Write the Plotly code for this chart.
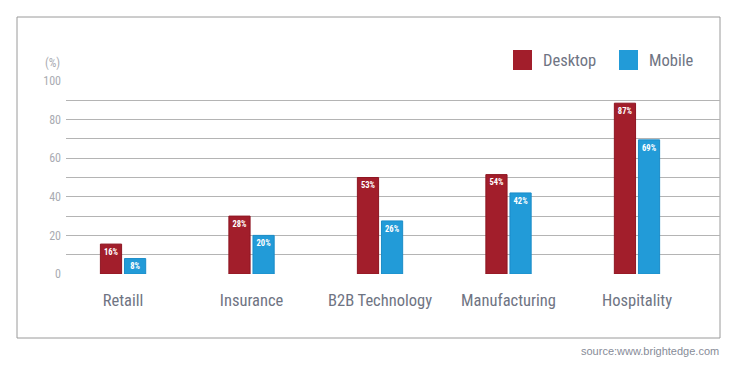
import plotly.graph_objects as go

categories = ["Retaill", "Insurance", "B2B Technology", "Manufacturing", "Hospitality"]
desktop_values = [15.5, 30, 50, 51.5, 88.5]
mobile_values = [8, 20, 27.5, 42, 69.5]
desktop_labels = ["16%", "28%", "53%", "54%", "87%"]
mobile_labels = ["8%", "20%", "26%", "42%", "69%"]
y_ticks = [0, 20, 40, 60, 80, 100]

DESKTOP = "#a21e2b"
MOBILE = "#229bd8"
FONT = "Roboto Condensed, Liberation Sans Narrow, Arial Narrow, Roboto, sans-serif"
TXT = "#6f7483"
LIGHT = "#a9abb2"

fig = go.Figure()
fig.add_trace(go.Bar(
    x=categories, y=desktop_values, name="Desktop", text=desktop_labels,
    marker=dict(color=DESKTOP, line=dict(color="#8e1622", width=1)),
    textposition="inside", insidetextanchor="end", textangle=0,
    textfont=dict(color="white", size=10, family=FONT, weight="bold"), showlegend=False,
    cliponaxis=False,
))
fig.add_trace(go.Bar(
    x=categories, y=mobile_values, name="Mobile", text=mobile_labels,
    marker=dict(color=MOBILE, line=dict(color="#1b8cc8", width=1)),
    textposition="inside", insidetextanchor="end", textangle=0,
    textfont=dict(color="white", size=10, family=FONT, weight="bold"), showlegend=False,
    cliponaxis=False,
))

L, R, T, B = 66, 16, 81, 92
W, H = 736, 366
pw, ph = W - L - R, H - T - B

def px(x):
    return (x - L) / pw

def py(y):
    return (H - B - y) / ph

shapes = [
    dict(type="rect", xref="paper", yref="paper", x0=px(17), x1=px(720), y0=py(17), y1=py(338),
         line=dict(color="#9a9a9a", width=1), fillcolor="rgba(0,0,0,0)", layer="below"),
    dict(type="rect", xref="paper", yref="paper", x0=px(513), x1=px(532), y0=py(50), y1=py(70),
         line=dict(width=0), fillcolor=DESKTOP),
    dict(type="rect", xref="paper", yref="paper", x0=px(619), x1=px(638), y0=py(50), y1=py(70),
         line=dict(width=0), fillcolor=MOBILE),
]

annotations = [
    dict(text="Desktop", xref="paper", yref="paper", x=px(541), y=py(60), xanchor="left", yanchor="middle",
         showarrow=False, font=dict(family=FONT, size=16.5, color=TXT)),
    dict(text="Mobile", xref="paper", yref="paper", x=px(647), y=py(60), xanchor="left", yanchor="middle",
         showarrow=False, font=dict(family=FONT, size=16.5, color=TXT)),
    dict(text="(%)", xref="paper", yref="paper", x=px(62), y=py(63), xanchor="right", yanchor="middle",
         showarrow=False, font=dict(family=FONT, size=12, color=LIGHT)),
    dict(text="source:www.brightedge.com", xref="paper", yref="paper", x=px(721), y=py(351),
         xanchor="right", yanchor="middle", showarrow=False,
         font=dict(family="Liberation Sans, Arial, sans-serif", size=11, color="#878c98")),
]

fig.update_layout(
    width=W, height=H,
    margin=dict(l=L, r=R, t=T, b=B),
    paper_bgcolor="white", plot_bgcolor="white",
    barmode="group", bargap=0.625, bargroupgap=0.12,
    shapes=shapes, annotations=annotations,
    font=dict(family=FONT, color=TXT),
    uniformtext=dict(minsize=8, mode="show"),
)
fig.update_xaxes(
    range=[-0.444, 4.646], showgrid=False, zeroline=False, showline=False,
    tickfont=dict(family=FONT, size=16.5, color=TXT), ticks="", ticklabelstandoff=14,
)
fig.update_yaxes(
    range=[0, 100], tickvals=y_ticks, showgrid=True, gridcolor="#b4b4b4", gridwidth=1,
    minor=dict(dtick=10, showgrid=True, gridcolor="#b4b4b4", gridwidth=1),
    zeroline=False, showline=False, ticks="",
    tickfont=dict(family=FONT, size=12, color=LIGHT), ticklabelstandoff=4,
)

fig.write_html("out.html", config={"displayModeBar": False},
               post_script="document.body.style.margin='0';document.body.style.padding='0';")
